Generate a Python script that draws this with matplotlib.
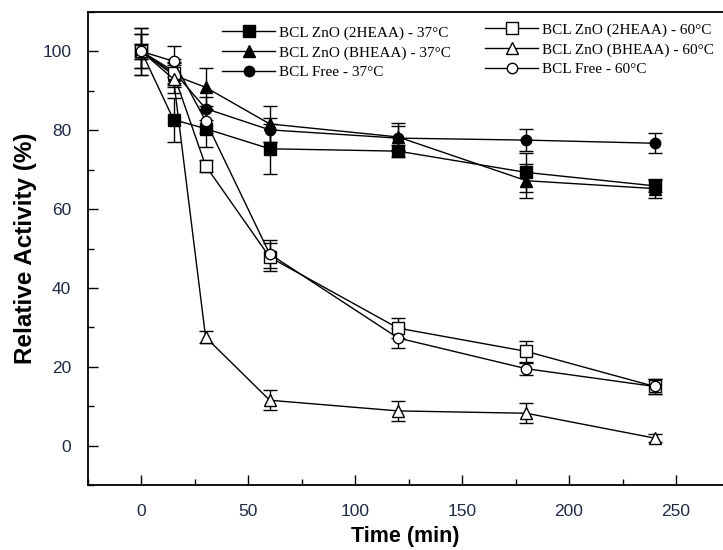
import numpy as np
import matplotlib
matplotlib.use("Agg")
import matplotlib.pyplot as plt
from matplotlib.ticker import MultipleLocator

# DATA
time = [0, 15, 30, 60, 120, 180, 240]

zno2_37 = [100, 82.7, 80.4, 75.3, 74.7, 69.3, 65.9]
zno2_37_err = [6.0, 5.6, 4.7, 6.3, 1.6, 5.0, 1.6]
znob_37 = [100, 94.0, 90.9, 81.6, 78.3, 67.2, 65.2]
znob_37_err = [4.3, 3.0, 4.8, 4.5, 3.6, 4.3, 2.5]
free_37 = [100, 95.0, 85.5, 80.1, 78.0, 77.5, 76.7]
free_37_err = [2.0, 3.0, 3.0, 3.0, 3.0, 2.7, 2.5]

zno2_60 = [100, 94.4, 71.0, 47.8, 29.8, 23.9, 15.0]
zno2_60_err = [2.0, 3.0, 1.5, 3.5, 2.5, 2.6, 1.8]
znob_60 = [100, 93.0, 27.5, 11.5, 8.8, 8.2, 1.9]
znob_60_err = [4.3, 3.5, 1.5, 2.5, 2.5, 2.5, 1.0]
free_60 = [100, 97.5, 82.4, 48.6, 27.3, 19.5, 15.0]
free_60_err = [6.0, 4.0, 3.0, 3.5, 2.5, 1.5, 1.8]

labels_37 = ["BCL ZnO (2HEAA) - 37°C", "BCL ZnO (BHEAA) - 37°C", "BCL Free - 37°C"]
labels_60 = ["BCL ZnO (2HEAA) - 60°C", "BCL ZnO (BHEAA) - 60°C", "BCL Free - 60°C"]

# PLOT
fig = plt.figure(figsize=(7.23, 5.5), dpi=100)
ax = fig.add_axes([88 / 723, 65 / 550, 1 - 88 / 723, 473 / 550])

series = [
    (zno2_37, zno2_37_err, "s", "k", labels_37[0]),
    (znob_37, znob_37_err, "^", "k", labels_37[1]),
    (free_37, free_37_err, "o", "k", labels_37[2]),
    (zno2_60, zno2_60_err, "s", "white", labels_60[0]),
    (znob_60, znob_60_err, "^", "white", labels_60[1]),
    (free_60, free_60_err, "o", "white", labels_60[2]),
]

handles = []
for y, err, mk, fc, lab in series:
    ax.errorbar(time, y, yerr=err, fmt="none", ecolor="k", elinewidth=1,
                capsize=5, capthick=1, zorder=2)
    ms = 7.5 if mk == "o" else 8.5
    h, = ax.plot(time, y, "-", color="k", lw=1, marker=mk, markersize=ms,
                 markerfacecolor=fc, markeredgecolor="k", markeredgewidth=1,
                 label=lab, zorder=3)
    handles.append(h)

ax.set_xlim(-25, 272)
ax.set_ylim(-10, 110)
ax.xaxis.set_major_locator(MultipleLocator(50))
ax.xaxis.set_minor_locator(MultipleLocator(25))
ax.yaxis.set_major_locator(MultipleLocator(20))
ax.yaxis.set_minor_locator(MultipleLocator(10))
ax.tick_params(which="both", direction="in", width=1, top=False, right=False)
ax.tick_params(which="major", length=7)
ax.tick_params(which="minor", length=4)
for lab in ax.get_xticklabels() + ax.get_yticklabels():
    lab.set_fontfamily("Liberation Sans")
    lab.set_fontsize(12.5)
    lab.set_color("#1f2a44")
ax.tick_params(axis="x", pad=14)
ax.tick_params(axis="y", pad=12)
ax.spines["right"].set_visible(False)
for s in ["left", "bottom", "top"]:
    ax.spines[s].set_linewidth(1.3)

ax.set_xlabel("Time (min)", fontfamily="Liberation Sans", fontweight="bold",
              fontsize=15.5, labelpad=5)
ax.set_ylabel("Relative Activity (%)", fontfamily="Liberation Sans",
              fontweight="bold", fontsize=17.5, labelpad=4)

leg_font = {"family": "Liberation Serif", "size": 11}
leg_kw = dict(loc="upper left", bbox_transform=fig.transFigure, frameon=False,
              prop=leg_font, numpoints=1, handlelength=3.5, handletextpad=0.2,
              labelspacing=0.38, borderpad=0, borderaxespad=0)
leg1 = ax.legend(handles=handles[:3], bbox_to_anchor=(222 / 723, 1 - 26 / 550), **leg_kw)
ax.add_artist(leg1)
ax.legend(handles=handles[3:], bbox_to_anchor=(485 / 723, 1 - 23 / 550), **leg_kw)

fig.savefig("out.png", dpi=100)
